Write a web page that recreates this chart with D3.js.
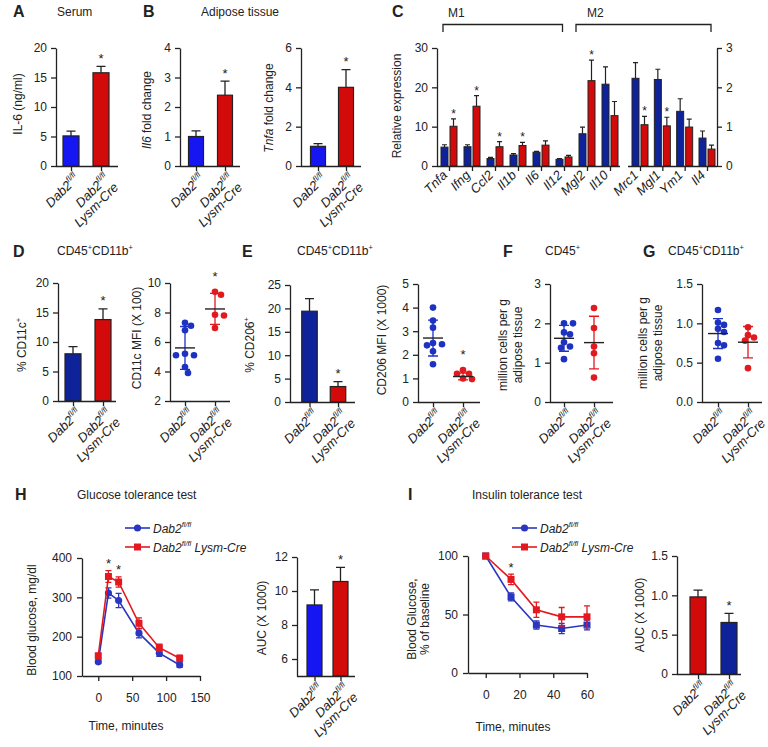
<!DOCTYPE html>
<html><head><meta charset="utf-8">
<script src="https://cdn.jsdelivr.net/npm/d3@7"></script>
<style>
body{margin:0;background:#fff}
svg{display:block;font-family:"Liberation Sans",Arial,Helvetica,sans-serif}
</style></head><body>
<svg id="fig" width="768" height="747"></svg>
<script>
// ---------------- DATA ----------------
const genotypes = ["Dab2 fl/fl", "Dab2 fl/fl Lysm-Cre"];
const serumIl6 = [5.1, 15.8];
const serumIl6Err = [0.8, 1.1];
const il6Fold = [1.0, 2.4];
const il6FoldErr = [0.19, 0.48];
const tnfaFold = [1.0, 4.0];
const tnfaFoldErr = [0.14, 0.9];

const genesLeft = ["Tnfa","Ifng","Ccl2","Il1b","Il6","Il12","Mgl2","Il10"];
const genesLeftCtrl = [4.8, 4.9, 1.9, 2.8, 3.5, 1.7, 8.2, 20.8];
const genesLeftCtrlErr = [0.6, 0.5, 0.3, 0.35, 0.2, 0.2, 1.7, 4.4];
const genesLeftKo = [10.1, 15.2, 4.9, 5.2, 5.3, 2.3, 21.7, 12.8];
const genesLeftKoErr = [1.9, 2.7, 1.3, 0.8, 1.1, 0.4, 5.2, 3.6];
const genesRight = ["Mrc1","Mgl1","Ym1","Il4"];
const genesRightCtrl = [2.23, 2.2, 1.39, 0.71];
const genesRightCtrlErr = [0.4, 0.26, 0.32, 0.18];
const genesRightKo = [1.05, 1.02, 0.99, 0.43];
const genesRightKoErr = [0.21, 0.22, 0.2, 0.1];
const starGenes = ["Tnfa","Ifng","Ccl2","Il1b","Mgl2","Mrc1","Mgl1"];

const cd11cPct = [8.0, 13.8];
const cd11cPctErr = [1.2, 1.8];
const cd11cMfiCtrl = [7.3, 7.1, 6.8, 5.2, 5.1, 5.1, 4.3, 3.9];
const cd11cMfiKo = [9.4, 9.2, 7.85, 7.8, 6.95];
const cd11cMfiMean = [5.6, 8.24];
const cd11cMfiSd = [1.45, 1.05];

const cd206Pct = [19.4, 3.3];
const cd206PctErr = [2.7, 1.05];
const cd206MfiCtrl = [4.0, 3.45, 3.15, 2.5, 2.45, 2.4, 2.15, 1.6];
const cd206MfiKo = [1.35, 1.2, 1.2, 1.0, 0.97];
const cd206MfiMean = [2.71, 1.08];
const cd206MfiSd = [0.76, 0.14];

const cd45Ctrl = [2.0, 2.0, 1.77, 1.72, 1.52, 1.41, 1.38, 1.09];
const cd45Ko = [2.39, 1.88, 1.41, 1.24, 0.62];
const cd45Mean = [1.62, 1.51];
const cd45Sd = [0.33, 0.67];

const cd11bCtrl = [1.17, 1.01, 0.98, 0.93, 0.89, 0.75, 0.72, 0.55];
const cd11bKo = [0.95, 0.85, 0.82, 0.78, 0.43];
const cd11bMean = [0.87, 0.76];
const cd11bSd = [0.19, 0.2];

const gttTime = [0, 15, 30, 60, 90, 120];
const gttCtrl = [136, 311, 292, 209, 158, 128];
const gttCtrlErr = [4, 13, 18, 12, 8, 6];
const gttKo = [151, 353, 339, 234, 172, 145];
const gttKoErr = [7, 15, 13, 14, 9, 8];
const gttStars = [15, 30];
const gttAuc = [9.18, 10.56];
const gttAucErr = [0.89, 0.83];

const ittTime = [0, 15, 30, 45, 60];
const ittCtrl = [100, 65, 41, 38, 41];
const ittCtrlErr = [0, 3.4, 3.5, 4.3, 4.2];
const ittKo = [100, 80, 54, 48, 48];
const ittKoErr = [0, 4.5, 6.5, 8, 9.3];
const ittStars = [15];
const ittAuc = [0.98, 0.655];
const ittAucErr = [0.085, 0.115];

// tick values
const ticksA = [0,5,10,15,20], ticksB1 = [0,1,2,3,4], ticksB2 = [0,2,4,6];
const ticksCL = [0,10,20,30], ticksCR = [0,1,2,3];
const ticksD1 = [0,5,10,15,20], ticksD2 = [2,4,6,8,10];
const ticksE1 = [0,5,10,15,20,25], ticksE2 = [0,1,2,3,4,5];
const ticksF = [0,1,2,3], ticksG = [0,0.5,1,1.5];
const ticksHx = [0,50,100,150], ticksHy = [100,200,300,400], ticksH2 = [6,8,10,12];
const ticksIx = [0,20,40,60], ticksIy = [0,50,100], ticksI2 = [0,0.5,1,1.5];

// ---------------- STYLE ----------------
const INK = "#222", FS = 12, FSR = 13;
const BLUE_BR = "#1616f2", NAVY = "#0e2299", RED = "#d20a0a";
const DOT_B = "#1e32c2", DOT_R = "#e01a1f";
const LINE_B = "#2a35c0", LINE_R = "#e3191f";
const R = 3.3, GX = 9, GY = 13, LINE2 = 13;

const svg = d3.select("#fig");

const genoRich = {
  "Dab2 fl/fl": [[["Dab2","i"],["fl/fl","is"]]],
  "Dab2 fl/fl Lysm-Cre": [[["Dab2","i"],["fl/fl","is"]], [["Lysm-Cre","i"]]]
};

function addRich(t, segs, fs){
  let shift = 0;
  segs.forEach(([s, st]) => {
    st = st || "";
    const sp = t.append("tspan").text(s);
    if (st.includes("i")) sp.attr("font-style","italic");
    if (st.includes("s")) {
      sp.attr("font-size", fs*0.62);
      const target = -fs*0.42;
      sp.attr("dy", target - shift); shift = target;
    } else if (shift !== 0) { sp.attr("dy", -shift); shift = 0; }
  });
}
function txt(g, x, y, segs, o={}){
  const fs = o.fs || FS;
  const t = g.append("text").attr("transform", `translate(${x},${y})` + (o.rot ? ` rotate(${o.rot})` : ""))
    .attr("font-size", fs).attr("fill", INK).attr("text-anchor", o.anchor || "start");
  if (o.weight) t.attr("font-weight", o.weight);
  addRich(t, segs, fs);
  return t;
}
function styleAxis(s){
  s.attr("font-size", FS).attr("font-family", null);
  s.select(".domain").attr("stroke", INK).attr("stroke-width", 1.3);
  s.selectAll(".tick line").attr("stroke", INK).attr("stroke-width", 1.3);
  s.selectAll(".tick text").attr("fill", INK);
}
function yAxis(g, y, xpos, ticks, fmt, right){
  const a = (right ? d3.axisRight(y) : d3.axisLeft(y)).tickValues(ticks).tickSizeOuter(0)
    .tickSizeInner(5).tickPadding(4).tickFormat(fmt || (d => String(d)));
  g.append("g").attr("transform", `translate(${xpos},0)`).call(a).call(styleAxis);
}
function xCatAxis(g, x, y0, ax){
  g.append("line").attr("x1", ax[0]).attr("x2", ax[1]).attr("y1", y0+0.5).attr("y2", y0+0.5)
    .attr("stroke", INK).attr("stroke-width", 1.3);
  g.append("g").attr("transform", `translate(0,${y0})`)
    .call(d3.axisBottom(x).tickSize(5).tickFormat(""))
    .call(s => s.select(".domain").remove()).call(styleAxis);
}
function yLabel(g, xs, yc, lines){
  lines.forEach((segs, i) => txt(g, xs[i] + FS*0.35, yc, segs, {anchor:"middle", rot:-90}));
}
function rotLabels(g, x, cats, y0, rich, dx, dy){
  cats.forEach(c => {
    rich(c).forEach((segs, i) => {
      const t = g.append("text").attr("transform", `translate(${x(c)+dx},${y0+dy}) rotate(-45)`)
        .attr("text-anchor","end").attr("font-size", FSR).attr("fill", INK).attr("y", i*LINE2);
      addRich(t, segs, FSR);
    });
  });
}
function star(g, cx, yb, fs){
  g.append("text").attr("x", cx).attr("y", yb).attr("text-anchor","middle")
    .attr("font-size", fs).attr("fill", INK).text("*");
}

// ---------------- BAR PANEL ----------------
function barPanel(o){
  const g = svg.append("g");
  const x = d3.scalePoint().domain(o.cats).range(o.c);
  const y = d3.scaleLinear().domain(o.dom).range(o.yr);
  const base = y(o.dom[0]);
  const data = o.cats.map((c,i) => ({c, v:o.vals[i], e:o.errs[i], col:o.colors[i]}));
  const cw = o.cap || 4.5;
  g.selectAll(null).data(data).join("rect")
    .attr("x", d => x(d.c) - o.bw/2).attr("y", d => y(d.v))
    .attr("width", o.bw).attr("height", d => base - y(d.v))
    .attr("fill", d => d.col).attr("stroke", INK).attr("stroke-width", 1.2);
  g.selectAll(null).data(data).join("path")
    .attr("d", d => { const cx = x(d.c), y1 = y(d.v), y2 = y(d.v + d.e);
      return `M${cx},${y1}V${y2}M${cx-cw},${y2}H${cx+cw}`; })
    .attr("stroke", INK).attr("stroke-width", 1.3).attr("fill","none");
  yAxis(g, y, o.ax[0], o.ticks, o.fmt);
  xCatAxis(g, x, base, o.ax);
  (o.stars || []).forEach(c => { const d = data.find(e => e.c === c); star(g, x(c), y(d.v + d.e) - 3.5, 13); });
  rotLabels(g, x, o.cats, base, c => genoRich[c], GX, GY);
  yLabel(g, o.ylx, o.yly, o.ylab);
}

// ---------------- DOT PANEL ----------------
function swarm(vals, y, r){
  const idx = vals.map((v,i) => i).sort((a,b) => vals[b] - vals[a]);
  const placed = [], off = new Array(vals.length).fill(0);
  const cands = [0]; for (let k = 1; k <= 8; k++) cands.push(k*3, -k*3);
  idx.forEach(i => {
    const py = y(vals[i]);
    for (const c of cands) {
      if (placed.every(p => Math.hypot(p.x - c, p.y - py) >= 2*r - 0.4)) { off[i] = c; placed.push({x:c, y:py}); break; }
    }
  });
  return off;
}
function dotPanel(o){
  const g = svg.append("g");
  const x = d3.scalePoint().domain(o.cats).range(o.c);
  const y = d3.scaleLinear().domain(o.dom).range(o.yr);
  const base = y(o.dom[0]);
  yAxis(g, y, o.ax[0], o.ticks, o.fmt);
  xCatAxis(g, x, base, o.ax);
  o.cats.forEach((c, gi) => {
    const vals = o.groups[gi], col = o.colors[gi];
    const sw = swarm(vals, y, R);
    g.selectAll(null).data(vals).join("circle")
      .attr("cx", (d,i) => x(c) + sw[i]).attr("cy", d => y(d)).attr("r", R).attr("fill", col);
    const m = o.means[gi], s = o.sds[gi], cx = x(c);
    g.append("path").attr("d", `M${cx},${y(m-s)}V${y(m+s)}M${cx-5},${y(m-s)}h10M${cx-5},${y(m+s)}h10`)
      .attr("stroke", col).attr("stroke-width", 1.3).attr("fill","none");
    g.append("line").attr("x1", cx-10).attr("x2", cx+10).attr("y1", y(m)).attr("y2", y(m))
      .attr("stroke", INK).attr("stroke-width", 1.4);
    if ((o.stars || []).includes(c)) star(g, cx, y(d3.max(vals)) - 11, 13);
  });
  rotLabels(g, x, o.cats, base, c => genoRich[c], GX, GY);
  yLabel(g, o.ylx, o.yly, o.ylab);
}

// ---------------- LINE PANEL ----------------
function linePanel(o){
  const g = svg.append("g");
  const x = d3.scaleLinear().domain(o.xdom).range(o.xr);
  const y = d3.scaleLinear().domain(o.ydom).range(o.yr);
  g.append("g").attr("transform", `translate(${o.xr[0]},0)`)
    .call(d3.axisLeft(y).tickValues(o.yticks).tickSizeOuter(0).tickSizeInner(5).tickPadding(5)).call(styleAxis);
  g.append("g").attr("transform", `translate(0,${o.yr[0]})`)
    .call(d3.axisBottom(x).tickValues(o.xticks).tickSizeOuter(0).tickSizeInner(5).tickPadding(12)).call(styleAxis);
  o.series.forEach(s => {
    const pts = o.time.map((t,i) => ({t, v:s.vals[i], e:s.errs[i]}));
    g.append("path").datum(pts).attr("d", d3.line().x(d => x(d.t)).y(d => y(d.v)))
      .attr("stroke", s.color).attr("stroke-width", 1.6).attr("fill","none");
    g.selectAll(null).data(pts.filter(d => d.e > 0)).join("path")
      .attr("d", d => { const cx = x(d.t), a = y(d.v - d.e), b = y(d.v + d.e);
        return `M${cx},${a}V${b}M${cx-3},${a}h6M${cx-3},${b}h6`; })
      .attr("stroke", s.color).attr("stroke-width", 1.3).attr("fill","none");
    g.selectAll(null).data(pts).join("path")
      .attr("transform", d => `translate(${x(d.t)},${y(d.v)})`)
      .attr("d", d3.symbol().type(s.shape).size(s.shape === d3.symbolSquare ? 49 : 40))
      .attr("fill", s.color);
  });
  const ko = o.series[1];
  o.stars.forEach(t => { const i = o.time.indexOf(t); star(g, x(t), y(ko.vals[i] + ko.errs[i]) - 2.5, 13); });
  // legend
  o.series.forEach((s, i) => {
    const ly = o.leg[1] + i*19;
    g.append("line").attr("x1", o.leg[0]).attr("x2", o.leg[0]+25).attr("y1", ly).attr("y2", ly)
      .attr("stroke", s.color).attr("stroke-width", 1.6);
    g.append("path").attr("transform", `translate(${o.leg[0]+12.5},${ly})`)
      .attr("d", d3.symbol().type(i === 0 ? d3.symbolCircle : d3.symbolSquare).size(i === 0 ? 40 : 49)).attr("fill", s.color);
    txt(g, o.leg[0]+28, ly+4.5, s.label);
  });
  txt(g, o.xlab[0], o.xlab[1], [["Time, minutes"]], {anchor:"middle"});
  yLabel(g, o.ylx, o.yly, o.ylab);
}

// ---------------- PANEL C ----------------
function panelC(){
  const g = svg.append("g");
  const xL = d3.scalePoint().domain(genesLeft).range([449, 610]);
  const xR = d3.scalePoint().domain(genesRight).range([640, 707]);
  const yL = d3.scaleLinear().domain([0, 30]).range([166, 48]);
  const yR = d3.scaleLinear().domain([0, 3]).range([166, 48]);
  const BW = 7;
  function bars(x, y, cats, ctrl, ctrlE, ko, koE){
    const data = [];
    cats.forEach((c,i) => {
      data.push({c, v:ctrl[i], e:ctrlE[i], off:-4.5, col:NAVY, st:false});
      data.push({c, v:ko[i], e:koE[i], off:4.5, col:RED, st:starGenes.includes(c)});
    });
    g.selectAll(null).data(data).join("rect")
      .attr("x", d => x(d.c) + d.off - BW/2).attr("y", d => y(d.v))
      .attr("width", BW).attr("height", d => y(0) - y(d.v))
      .attr("fill", d => d.col).attr("stroke", INK).attr("stroke-width", 1);
    g.selectAll(null).data(data).join("path")
      .attr("d", d => { const cx = x(d.c) + d.off, a = y(d.v), b = y(d.v + d.e);
        return `M${cx},${a}V${b}M${cx-2.5},${b}h5`; })
      .attr("stroke", INK).attr("stroke-width", 1.2).attr("fill","none");
    data.filter(d => d.st).forEach(d => star(g, x(d.c) + d.off, y(d.v + d.e) - 1, 12));
    xCatAxis(g, x, y(0), [x.range()[0] - 12, x.range()[1] + 10]);
    rotLabels(g, x, cats, y(0), c => [[[c, "i"]]], -1, 10);
  }
  bars(xL, yL, genesLeft, genesLeftCtrl, genesLeftCtrlErr, genesLeftKo, genesLeftKoErr);
  bars(xR, yR, genesRight, genesRightCtrl, genesRightCtrlErr, genesRightKo, genesRightKoErr);
  yAxis(g, yL, 437, ticksCL);
  yAxis(g, yR, 717, ticksCR, null, true);
  yLabel(g, [397], 106, [[["Relative expression"]]]);
  // brackets
  const b1 = [xL("Tnfa") - 6, xL("Il12") - 1.5], b2 = [xL("Mgl2") - 11, xR("Il4") + 4];
  [b1, b2].forEach(b => g.append("path").attr("d", `M${b[0]},32V24.5H${b[1]}V32`)
    .attr("stroke", INK).attr("stroke-width", 1.3).attr("fill","none"));
  txt(g, 448, 17, [["M1"]]);
  txt(g, 587, 17, [["M2"]]);
}

// ---------------- DRAW ----------------
const letters = [["A",13,17],["B",143,17],["C",392,17],["D",13,257],["E",242,257],["F",503,257],["G",643,257],["H",15,500],["I",408,500]];
letters.forEach(([l,x,y]) => txt(svg, x, y, [[l]], {fs:16, weight:"bold"}));
const cdTitle = [["CD45"],["+","s"],["CD11b"],["+","s"]];
const titles = [[[["Serum"]],57,16],[[["Adipose tissue"]],201,16],[cdTitle,57,255],[cdTitle,297,255],
  [[["CD45"],["+","s"]],545,255],[cdTitle,668,255],[[["Glucose tolerance test"]],77,499],[[["Insulin tolerance test"]],472,499]];
titles.forEach(([s,x,y]) => txt(svg, x, y, s));

const colBright = [BLUE_BR, RED], colNavy = [NAVY, RED];

barPanel({cats:genotypes, vals:serumIl6, errs:serumIl6Err, colors:colBright, ax:[56,118], c:[71,101],
  yr:[166,48], dom:[0,20], ticks:ticksA, bw:16, stars:[genotypes[1]], ylx:[18], yly:104, ylab:[[["IL-6 (ng/ml)"]]]});
barPanel({cats:genotypes, vals:il6Fold, errs:il6FoldErr, colors:colBright, ax:[180,240], c:[196,225],
  yr:[166,48], dom:[0,4], ticks:ticksB1, bw:15, stars:[genotypes[1]], ylx:[147], yly:110, ylab:[[["Il6","i"],[" fold change"]]]});
barPanel({cats:genotypes, vals:tnfaFold, errs:tnfaFoldErr, colors:colBright, ax:[301,361], c:[318,346],
  yr:[166,48], dom:[0,6], ticks:ticksB2, bw:15, stars:[genotypes[1]], ylx:[269], yly:108, ylab:[[["Tnfa","i"],[" fold change"]]]});
panelC();
barPanel({cats:genotypes, vals:cd11cPct, errs:cd11cPctErr, colors:colNavy, ax:[58,116], c:[73,103],
  yr:[401,283], dom:[0,20], ticks:ticksD1, bw:16, stars:[genotypes[1]], ylx:[22], yly:345, ylab:[[["% CD11c"],["+","s"]]]});
dotPanel({cats:genotypes, groups:[cd11cMfiCtrl, cd11cMfiKo], means:cd11cMfiMean, sds:cd11cMfiSd, colors:[DOT_B, DOT_R],
  ax:[170,230], c:[185,215], yr:[401,283], dom:[2,10], ticks:ticksD2, stars:[genotypes[1]], ylx:[137], yly:338, ylab:[[["CD11c MFI (X 100)"]]]});
barPanel({cats:genotypes, vals:cd206Pct, errs:cd206PctErr, colors:colNavy, ax:[290,355], c:[309.5,338],
  yr:[402,285], dom:[0,25], ticks:ticksE1, bw:15.5, stars:[genotypes[1]], ylx:[250], yly:345, ylab:[[["% CD206"],["+","s"]]]});
dotPanel({cats:genotypes, groups:[cd206MfiCtrl, cd206MfiKo], means:cd206MfiMean, sds:cd206MfiSd, colors:[DOT_B, DOT_R],
  ax:[418,480], c:[433,463], yr:[402,284], dom:[0,5], ticks:ticksE2, stars:[genotypes[1]], ylx:[382], yly:340, ylab:[[["CD206 MFI (X 1000)"]]]});
dotPanel({cats:genotypes, groups:[cd45Ctrl, cd45Ko], means:cd45Mean, sds:cd45Sd, colors:[DOT_B, DOT_R],
  ax:[550,613], c:[564,594], yr:[402,284], dom:[0,3], ticks:ticksF, ylx:[503,518], yly:345,
  ylab:[[["million cells per g"]],[["adipose tissue"]]]});
dotPanel({cats:genotypes, groups:[cd11bCtrl, cd11bKo], means:cd11bMean, sds:cd11bSd, colors:[DOT_B, DOT_R],
  ax:[702,762], c:[718,748], yr:[402,284], dom:[0,1.5], ticks:ticksG, fmt:d3.format(".1f"), ylx:[643,658], yly:343,
  ylab:[[["million cells per g"]],[["adipose tissue"]]]});

const legCtrl = [["Dab2","i"],["fl/fl","is"]];
const legKo = [["Dab2","i"],["fl/fl","is"],[" Lysm-Cre","i"]];
linePanel({xdom:[-24,150], xr:[82,200], ydom:[100,400], yr:[676,558], xticks:ticksHx, yticks:ticksHy, time:gttTime,
  series:[{vals:gttCtrl, errs:gttCtrlErr, color:LINE_B, shape:d3.symbolCircle, label:legCtrl},
          {vals:gttKo, errs:gttKoErr, color:LINE_R, shape:d3.symbolSquare, label:legKo}],
  stars:gttStars, leg:[125,528], xlab:[126,730], ylx:[32], yly:620, ylab:[[["Blood glucose, mg/dl"]]]});
barPanel({cats:genotypes, vals:gttAuc, errs:gttAucErr, colors:colBright, ax:[297,355], c:[314.5,340.5],
  yr:[676,557], dom:[5,12], ticks:ticksH2, bw:15, stars:[genotypes[1]], ylx:[262], yly:618, ylab:[[["AUC (X 1000)"]]]});
linePanel({xdom:[-10.5,60], xr:[468,587], ydom:[0,100], yr:[673,556], xticks:ticksIx, yticks:ticksIy, time:ittTime,
  series:[{vals:ittCtrl, errs:ittCtrlErr, color:LINE_B, shape:d3.symbolSquare, label:legCtrl},
          {vals:ittKo, errs:ittKoErr, color:LINE_R, shape:d3.symbolSquare, label:legKo}],
  stars:ittStars, leg:[512,528], xlab:[513,731], ylx:[412,425], yly:619, ylab:[[["Blood Glucose,"]],[["% of baseline"]]]});
barPanel({cats:genotypes, vals:ittAuc, errs:ittAucErr, colors:[RED, NAVY], ax:[677,741], c:[698,729],
  yr:[674,556], dom:[0,1.5], ticks:ticksI2, fmt:d => d === 0 ? "0" : d3.format(".1f")(d), bw:16, stars:[genotypes[1]],
  ylx:[640], yly:615, ylab:[[["AUC (X 1000)"]]]});
</script>
</body></html>
